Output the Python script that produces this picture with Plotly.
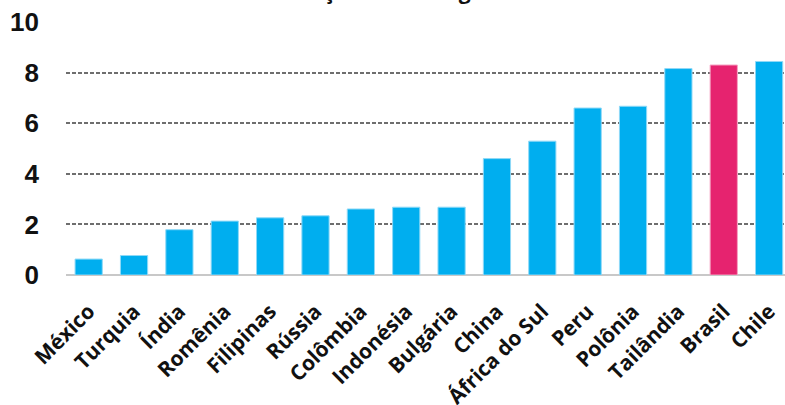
import plotly.graph_objects as go

categories = ["México", "Turquia", "Índia", "Romênia", "Filipinas", "Rússia", "Colômbia",
              "Indonésia", "Bulgária", "China", "África do Sul", "Peru", "Polônia",
              "Tailândia", "Brasil", "Chile"]
values = [0.63, 0.77, 1.79, 2.13, 2.26, 2.34, 2.61, 2.68, 2.68, 4.60, 5.29, 6.60, 6.67,
          8.16, 8.30, 8.44]
highlight = "Brasil"
title_text = "Fonte: FMI - Elaboração: Porto Seguro Investimentos"
y_ticks = [0, 2, 4, 6, 8, 10]

BLUE = "#00AEEF"
PINK = "#E6236F"
colors = [PINK if c == highlight else BLUE for c in categories]
outline = ["#f5a3c3" if c == highlight else "#8fd9f7" for c in categories]

fig = go.Figure(go.Bar(
    x=categories, y=values,
    marker=dict(color=colors, line=dict(color=outline, width=1)),
    width=0.6,
))

W, H = 785, 405
mt, mb, ml, mr = 22, 130, 66, 0
ph = H - mt - mb

fig.update_layout(
    width=W, height=H,
    margin=dict(t=mt, b=mb, l=ml, r=mr),
    plot_bgcolor="white", paper_bgcolor="white",
    showlegend=False,
    xaxis=dict(
        range=[-0.5, 15.35], tickangle=-45, automargin=False,
        tickfont=dict(family="Open Sans", size=21, color="#111111", weight="bold"),
        showgrid=False, showline=False, ticks="", ticklabelstandoff=19,
    ),
    yaxis=dict(
        range=[0, 10], tickvals=y_ticks, automargin=False,
        tickfont=dict(family="Liberation Sans", size=26, color="#111111", weight="bold"),
        gridcolor="#6e6e6e", griddash="4px,2px", gridwidth=1.5,
        zeroline=True, zerolinecolor="#c8c8c8", zerolinewidth=1.5,
        ticklabelstandoff=26, showline=False,
    ),
    annotations=[dict(
        text="<b>" + title_text + "</b>", xref="paper", yref="paper",
        x=(390 - ml) / (W - ml - mr), y=1 + (mt + 9) / ph, xanchor="center", yanchor="middle",
        showarrow=False, font=dict(family="Open Sans", size=21, color="#111111"),
    )],
)
fig.write_html("out.html")
